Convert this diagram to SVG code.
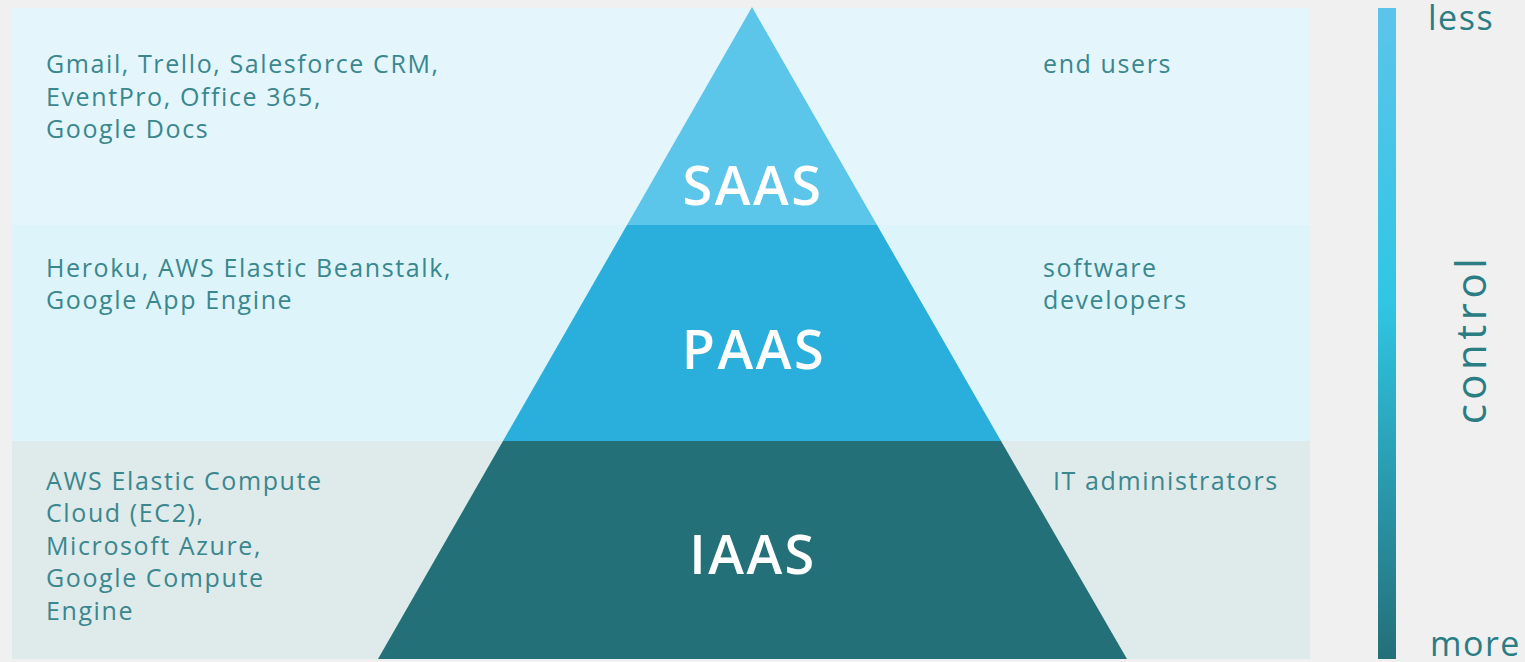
<svg xmlns="http://www.w3.org/2000/svg" width="1525" height="662" viewBox="0 0 1525 662">
<defs>
<linearGradient id="barGrad" x1="0" y1="0" x2="0" y2="1">
<stop offset="0" stop-color="#5cc4ea"/>
<stop offset="0.45" stop-color="#30c6e4"/>
<stop offset="1" stop-color="#236f78"/>
</linearGradient>
<style>
.t{font-family:"Open Sans","Noto Sans",sans-serif;font-size:25px;letter-spacing:1.6px;fill:#3a878e;}
.lbl{font-family:"Open Sans","Noto Sans",sans-serif;font-size:54px;font-weight:600;letter-spacing:2.5px;fill:#ffffff;text-anchor:middle;}
.side{font-family:"Open Sans","Noto Sans",sans-serif;font-size:34px;letter-spacing:1.5px;fill:#2b7d84;}
</style>
</defs>
<rect x="0" y="0" width="1525" height="662" fill="#f0f0f0"/>
<g id="bands">
<rect x="12" y="8" width="1298" height="217" fill="#e4f6fc"/>
<rect x="12" y="225" width="1298" height="216" fill="#ddf4fa"/>
<rect x="12" y="441" width="1298" height="218" fill="#dfeaeb"/>
</g>
<g id="saas">
<polygon points="752,7 877,225 627,225" fill="#5bc5ea"/>
<text class="lbl" x="753" y="205">SAAS</text>
</g>
<g id="paas">
<polygon points="627,225 877,225 1001,441 503,441" fill="#2aaedb"/>
<text class="lbl" x="754" y="369">PAAS</text>
</g>
<g id="iaas">
<polygon points="503,441 1001,441 1127,659 378,659" fill="#237078"/>
<text class="lbl" x="753" y="574">IAAS</text>
</g>
<g id="saas-examples">
<text class="t" x="46" y="73">Gmail, Trello, Salesforce CRM,</text>
<text class="t" x="46" y="106">EventPro, Office 365,</text>
<text class="t" x="46" y="138">Google Docs</text>
</g>
<g id="paas-examples">
<text class="t" x="46" y="277">Heroku, AWS Elastic Beanstalk,</text>
<text class="t" x="46" y="309">Google App Engine</text>
</g>
<g id="iaas-examples">
<text class="t" x="46" y="490">AWS Elastic Compute</text>
<text class="t" x="46" y="522">Cloud (EC2),</text>
<text class="t" x="46" y="555">Microsoft Azure,</text>
<text class="t" x="46" y="587">Google Compute</text>
<text class="t" x="46" y="620">Engine</text>
</g>
<g id="saas-users">
<text class="t" x="1043" y="73">end users</text>
</g>
<g id="paas-users">
<text class="t" x="1043" y="277">software</text>
<text class="t" x="1043" y="309">developers</text>
</g>
<g id="iaas-users">
<text class="t" x="1053" y="490">IT administrators</text>
</g>
<g id="control-scale">
<rect x="1378" y="8" width="18" height="651" fill="url(#barGrad)"/>
<text class="side" x="1428" y="30">less</text>
<text class="side" x="1430" y="656">more</text>
<text class="side" x="0" y="0" text-anchor="middle" style="font-size:42px;letter-spacing:4.5px" transform="translate(1486,339) rotate(-90)">control</text>
</g>
</svg>
